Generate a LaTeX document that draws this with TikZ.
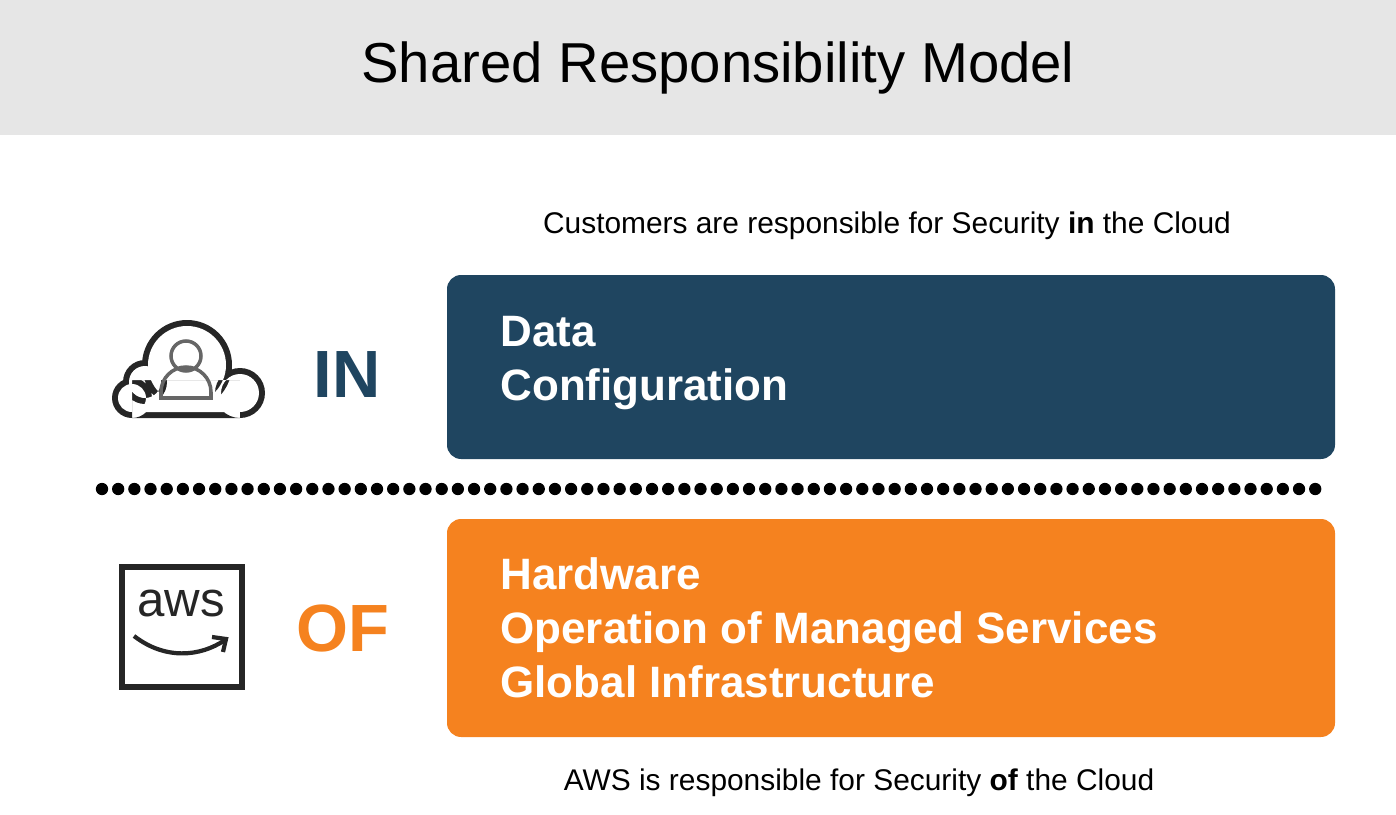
\documentclass[tikz,border=0pt]{standalone}
\usepackage{fontspec}
\setmainfont{Liberation Sans}
\definecolor{inblue}{HTML}{1F4560}
\definecolor{oforange}{HTML}{F5821F}
\definecolor{bandgray}{HTML}{E6E6E6}
\tikzset{
  layerbox/.style={rounded corners=4pt},
  layertext/.style={anchor=west, align=left, text=white, font=\fontsize{12.5}{15.4}\selectfont\bfseries},
  caption/.style={font=\fontsize{8.5}{10}\selectfont},
  tag/.style={font=\fontsize{19}{22}\selectfont\bfseries}
}
\begin{document}
\begin{tikzpicture}[x=0.01cm,y=0.01cm]
  %Frame and title band
  \useasboundingbox (0,0) rectangle (1396,-815);
  \fill[bandgray] (0,0) rectangle (1396,-135);
  \node[font=\fontsize{16}{19}\selectfont] (title) at (718,-68) {Shared Responsibility Model};

  %Layers
  \fill[inblue, layerbox] (447,-275) rectangle (1335,-459);
  \fill[oforange, layerbox] (447,-519) rectangle (1335,-737);
  \node[layertext] (intext) at (488,-363) {Data\\Configuration};
  \node[layertext] (oftext) at (488,-628) {Hardware\\Operation of Managed Services\\Global Infrastructure};
  \node[caption] (incap) at (887,-226) {Customers are responsible for Security \textbf{in} the Cloud};
  \node[caption] (ofcap) at (859,-783) {AWS is responsible for Security \textbf{of} the Cloud};

  %Separator
  \draw[line width=3.5pt, dash pattern=on 0pt off 4.6pt, line cap=round] (102,-489) -- (1326,-489);

  %Tags
  \node[tag, text=inblue] (in) at (347,-375) {IN};
  \node[tag, text=oforange] (of) at (343,-628) {OF};

  %Cloud icon
  \fill[black!85] (240,-393) circle (25) (187,-365) circle (45) (145,-382) circle (22) (132,-398) circle (20) (132,-418) rectangle (240,-380);
  \fill[white] (240,-393) circle (19) (187,-365) circle (39) (145,-382) circle (16) (132,-398) circle (14) (132,-412) rectangle (240,-380);
  \draw[black!60, line width=1pt] (186,-356) circle (15);
  \draw[black!60, line width=1pt] (161,-398) -- (161,-392) arc (180:0:25) -- (211,-398) -- cycle;

  %AWS icon
  \draw[black!85, line width=1.6pt] (122,-567) rectangle (242,-687);
  \node[font=\fontsize{14}{16}\selectfont, text=black!85] (aws) at (181,-603) {aws};
  \draw[black!85, line width=1.2pt] (134,-636) .. controls (165,-660) and (200,-657) .. (225,-640);
  \draw[black!85, line width=1.2pt] (212,-637) -- (226,-639) -- (223,-652);
\end{tikzpicture}
\end{document}
